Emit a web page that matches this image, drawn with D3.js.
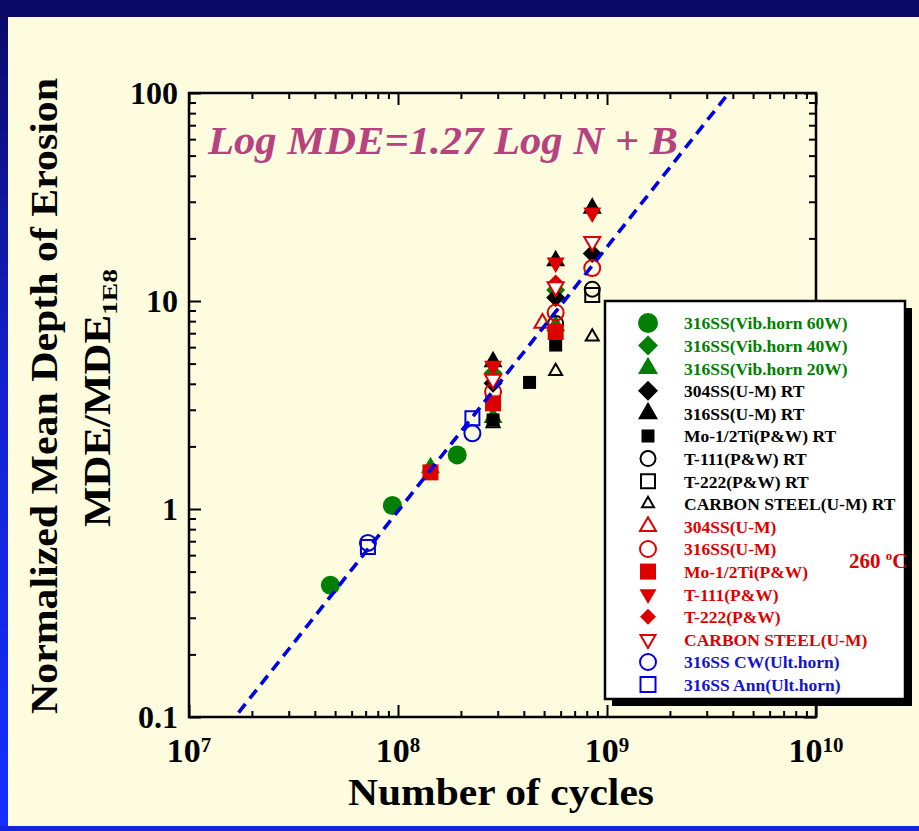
<!DOCTYPE html>
<html>
<head>
<meta charset="utf-8">
<script src="https://cdn.jsdelivr.net/npm/d3@7"></script>
<style>
  html, body { margin: 0; padding: 0; background: #fdfcdf; }
  svg { display: block; }
  text { font-family: "Liberation Serif", "Times New Roman", serif; font-weight: bold; }
</style>
</head>
<body>
<svg id="chart" width="919" height="831"></svg>
<script>
// ---- data: [number of cycles, normalized MDE] per material / test ----
const vibHorn60W = [[4.75e7, 0.43], [9.4e7, 1.04], [1.92e8, 1.82]];
const vibHorn40W = [[2.85e8, 4.5], [5.68e8, 11.3]];
const vibHorn20W = [[1.43e8, 1.58], [2.85e8, 2.75], [5.68e8, 7.6]];
const ss304RT    = [[2.85e8, 4.02], [5.68e8, 10.4], [8.5e8, 16.9]];
const ss316RT    = [[2.85e8, 5.1], [5.68e8, 15.6], [8.5e8, 27.9]];
const mo12TiRT   = [[2.85e8, 2.68], [4.26e8, 4.06], [5.68e8, 6.14]];
const t111RT     = [[5.68e8, 7.8], [8.5e8, 11.4]];
const t222RT     = [[8.5e8, 10.7]];
const carbonRT   = [[2.85e8, 2.58], [5.68e8, 4.6], [8.5e8, 6.73]];
const ss304Hot   = [[4.91e8, 7.82]];
const ss316Hot   = [[2.85e8, 3.66], [5.68e8, 8.8], [8.5e8, 14.4]];
const mo12TiHot  = [[1.43e8, 1.50], [2.85e8, 3.22], [5.68e8, 7.1]];
const t111Hot    = [[2.85e8, 4.87], [5.68e8, 15.3], [8.5e8, 26.6]];
const t222Hot    = [[5.68e8, 12.2]];
const carbonHot  = [[2.85e8, 4.2], [5.68e8, 11.7], [8.5e8, 19.3]];
const cwUltHorn  = [[7.18e7, 0.687], [2.27e8, 2.31]];
const annUltHorn = [[7.18e7, 0.656], [2.27e8, 2.73]];

const legendLabels = [
  "316SS(Vib.horn 60W)", "316SS(Vib.horn 40W)", "316SS(Vib.horn 20W)",
  "304SS(U-M) RT", "316SS(U-M) RT", "Mo-1/2Ti(P&W) RT", "T-111(P&W) RT",
  "T-222(P&W) RT", "CARBON STEEL(U-M) RT",
  "304SS(U-M)", "316SS(U-M)", "Mo-1/2Ti(P&W)", "T-111(P&W)", "T-222(P&W)",
  "CARBON STEEL(U-M)", "316SS CW(Ult.horn)", "316SS Ann(Ult.horn)"
];

// fitted power law: Log MDE = slope * Log N + B
const fitSlope = 1.27;
const fitIntercept = -10.17;
const fitRange = [0.105, 100];

const yTickValues = [0.1, 1, 10, 100];
const yTickLabels = ["0.1", "1", "10", "100"];
const xTickValues = [1e7, 1e8, 1e9, 1e10];
const xTickExponents = ["7", "8", "9", "10"];

// ---- styles ----
const GREEN = "#008000", RED = "#dd0000", BLACK = "#000000", BLUE = "#0000dd";
const series = [
  { data: vibHorn60W, shape: "circle",  w: 19, lw: 20, fill: GREEN, text: GREEN },
  { data: vibHorn40W, shape: "diamond", w: 19, lw: 20, fill: GREEN, text: GREEN },
  { data: vibHorn20W, shape: "up",      w: 19, lw: 20, fill: GREEN, text: GREEN },
  { data: ss304RT,    shape: "diamond", w: 19, lw: 20, fill: BLACK, text: BLACK },
  { data: ss316RT,    shape: "up",      w: 19, lw: 20, fill: BLACK, text: BLACK },
  { data: mo12TiRT,   shape: "square",  w: 13, lw: 13, fill: BLACK, text: BLACK },
  { data: t111RT,     shape: "circle",  w: 15, lw: 15, stroke: BLACK, text: BLACK },
  { data: t222RT,     shape: "square",  w: 14, lw: 14, stroke: BLACK, text: BLACK },
  { data: carbonRT,   shape: "up",      w: 13, lw: 12, stroke: BLACK, text: BLACK },
  { data: ss304Hot,   shape: "up",      w: 16, lw: 16, stroke: RED, text: RED },
  { data: ss316Hot,   shape: "circle",  w: 16, lw: 16, stroke: RED, text: RED },
  { data: mo12TiHot,  shape: "square",  w: 16, lw: 16, fill: RED, text: RED },
  { data: t111Hot,    shape: "down",    w: 18, lw: 17, fill: RED, text: RED },
  { data: t222Hot,    shape: "diamond", w: 17, lw: 16, fill: RED, text: RED },
  { data: carbonHot,  shape: "down",    w: 16, lw: 15, stroke: RED, fill: "#ffffff", text: RED },
  { data: cwUltHorn,  shape: "circle",  w: 16, lw: 16, stroke: BLUE, text: "#1414cc" },
  { data: annUltHorn, shape: "square",  w: 14, lw: 15, stroke: BLUE, text: "#1414cc" }
];

const svg = d3.select("#chart");
const W = 919, H = 831;

// ---- page background / frame ----
const defs = svg.append("defs");
const grad = defs.append("linearGradient").attr("id", "sideBand")
  .attr("x1", 0).attr("y1", 0).attr("x2", 0).attr("y2", 1);
grad.append("stop").attr("offset", "0%").attr("stop-color", "#0a0a66");
grad.append("stop").attr("offset", "45%").attr("stop-color", "#1420cc");
grad.append("stop").attr("offset", "100%").attr("stop-color", "#1430ff");

svg.append("rect").attr("width", W).attr("height", H).attr("fill", "#fdfcdf");
svg.append("rect").attr("x", 0).attr("y", 0).attr("width", 8).attr("height", H).attr("fill", "url(#sideBand)");
svg.append("rect").attr("x", 0).attr("y", 0).attr("width", W).attr("height", 17).attr("fill", "#0a0a66");
svg.append("rect").attr("x", 0).attr("y", 826).attr("width", W).attr("height", 5).attr("fill", "#1226e0");

// ---- scales ----
const x = d3.scaleLog().domain([1e7, 1e10]).range([189, 816]);
const y = d3.scaleLog().domain([0.1, 100]).range([717, 93]);
const [x0, x1] = x.range();
const [y0, y1] = y.range();

// minor ticks 2..9 in every decade
const minorX = [], minorY = [];
for (let d = 7; d < 10; d++) for (let k = 2; k <= 9; k++) minorX.push(k * Math.pow(10, d));
for (let d = -1; d < 2; d++) for (let k = 2; k <= 9; k++) minorY.push(k * Math.pow(10, d));

function drawAxis(axisFn, scale, values, size, tx, ty) {
  const g = svg.append("g").attr("transform", `translate(${tx},${ty})`)
    .call(axisFn(scale).tickValues(values).tickSize(size).tickSizeOuter(0).tickFormat(""));
  g.select(".domain").remove();
  g.selectAll(".tick line").attr("stroke", "#000").attr("stroke-width", 2);
}
// inward ticks on all four sides
drawAxis(d3.axisBottom, x, minorX, -6, 0, y0);
drawAxis(d3.axisBottom, x, xTickValues, -12, 0, y0);
drawAxis(d3.axisTop, x, minorX, -6, 0, y1);
drawAxis(d3.axisTop, x, xTickValues, -12, 0, y1);
drawAxis(d3.axisLeft, y, minorY, -7, x0, 0);
drawAxis(d3.axisLeft, y, yTickValues, -12, x0, 0);
drawAxis(d3.axisRight, y, minorY, -7, x1, 0);
drawAxis(d3.axisRight, y, yTickValues, -12, x1, 0);

svg.append("rect").attr("x", x0).attr("y", y1).attr("width", x1 - x0).attr("height", y0 - y1)
  .attr("fill", "none").attr("stroke", "#000").attr("stroke-width", 2.5);

// ---- tick labels ----
svg.append("g").selectAll("text").data(yTickValues).join("text")
  .attr("x", 178).attr("y", d => y(d)).attr("dy", "0.35em")
  .attr("text-anchor", "end").attr("font-size", 32).attr("fill", "#000")
  .text((d, i) => yTickLabels[i]);

const xl = svg.append("g").selectAll("text").data(xTickValues).join("text")
  .attr("x", d => x(d)).attr("y", 762).attr("text-anchor", "middle")
  .attr("font-size", 34).attr("fill", "#000");
xl.append("tspan").text("10");
xl.append("tspan").attr("font-size", 21).attr("dy", -10).text((d, i) => xTickExponents[i]);

// ---- axis titles ----
svg.append("text").attr("x", 501).attr("y", 805).attr("text-anchor", "middle")
  .attr("font-size", 37).attr("textLength", 306).attr("lengthAdjust", "spacingAndGlyphs")
  .text("Number of cycles");

svg.append("text").attr("transform", "translate(57,396) rotate(-90)")
  .attr("text-anchor", "middle").attr("font-size", 37)
  .attr("textLength", 636).attr("lengthAdjust", "spacingAndGlyphs")
  .text("Normalized Mean Depth of Erosion");

const yl2 = svg.append("text").attr("transform", "translate(110,398) rotate(-90)")
  .attr("text-anchor", "middle").attr("font-size", 37);
yl2.append("tspan").attr("textLength", 212).attr("lengthAdjust", "spacingAndGlyphs").text("MDE/MDE");
yl2.append("tspan").attr("font-size", 22).attr("dy", 7)
  .attr("textLength", 46).attr("lengthAdjust", "spacingAndGlyphs").text("1E8");

// ---- equation ----
svg.append("text").attr("x", 208).attr("y", 154)
  .attr("font-size", 41).attr("font-style", "italic").attr("fill", "#b6427f")
  .attr("textLength", 470).attr("lengthAdjust", "spacingAndGlyphs")
  .text("Log MDE=1.27 Log N + B");

// ---- markers ----
function symbolPath(kind, w) {
  if (kind === "circle") return d3.symbol(d3.symbolCircle, Math.PI * (w / 2) ** 2)();
  if (kind === "square") return d3.symbol(d3.symbolSquare, w * w)();
  if (kind === "diamond") return d3.symbol(d3.symbolSquare, w * w / 2)();
  return d3.symbol(d3.symbolTriangle, Math.sqrt(3) / 4 * w * w)();
}
function rotation(kind) {
  if (kind === "diamond") return " rotate(45)";
  if (kind === "down") return " rotate(180)";
  return "";
}
function styleMarker(sel, s) {
  sel.attr("fill", s.stroke ? (s.fill || "none") : s.fill)
     .attr("stroke", s.stroke || "none")
     .attr("stroke-width", s.stroke ? 2 : 0);
}

const markLayer = svg.append("g");
series.forEach(s => {
  markLayer.append("g").selectAll("path").data(s.data).join("path")
    .attr("d", symbolPath(s.shape, s.w))
    .attr("transform", d => `translate(${x(d[0])},${y(d[1])})` + rotation(s.shape))
    .call(styleMarker, s);
});

// ---- fit line (on top of markers) ----
const fitPoints = fitRange.map(m => [Math.pow(10, (Math.log10(m) - fitIntercept) / fitSlope), m]);
svg.append("path")
  .attr("d", d3.line().x(d => x(d[0])).y(d => y(d[1]))(fitPoints))
  .attr("fill", "none").attr("stroke", "#0000e6").attr("stroke-width", 3.6)
  .attr("stroke-dasharray", "11,7");

// ---- legend ----
const lg = svg.append("g");
lg.append("rect").attr("x", 612).attr("y", 308).attr("width", 300).attr("height", 398).attr("fill", "#000");
lg.append("rect").attr("x", 605).attr("y", 301).attr("width", 300).attr("height", 398)
  .attr("fill", "#ffffff").attr("stroke", "#000").attr("stroke-width", 2.5);

const rowY = i => 323 + i * 22.6;
series.forEach((s, i) => {
  lg.append("path").attr("d", symbolPath(s.shape, s.lw))
    .attr("transform", `translate(648,${rowY(i)})` + rotation(s.shape))
    .call(styleMarker, s);
  lg.append("text").attr("x", 684).attr("y", rowY(i)).attr("dy", "0.36em")
    .attr("font-size", 17.5).attr("fill", s.text).text(legendLabels[i]);
});

const temp = lg.append("text").attr("x", 849).attr("y", 568).attr("font-size", 21).attr("fill", RED);
temp.append("tspan").text("260 ");
temp.append("tspan").attr("font-size", 13).attr("dy", -8).text("o");
temp.append("tspan").attr("dy", 8).text("C");
</script>
</body>
</html>
